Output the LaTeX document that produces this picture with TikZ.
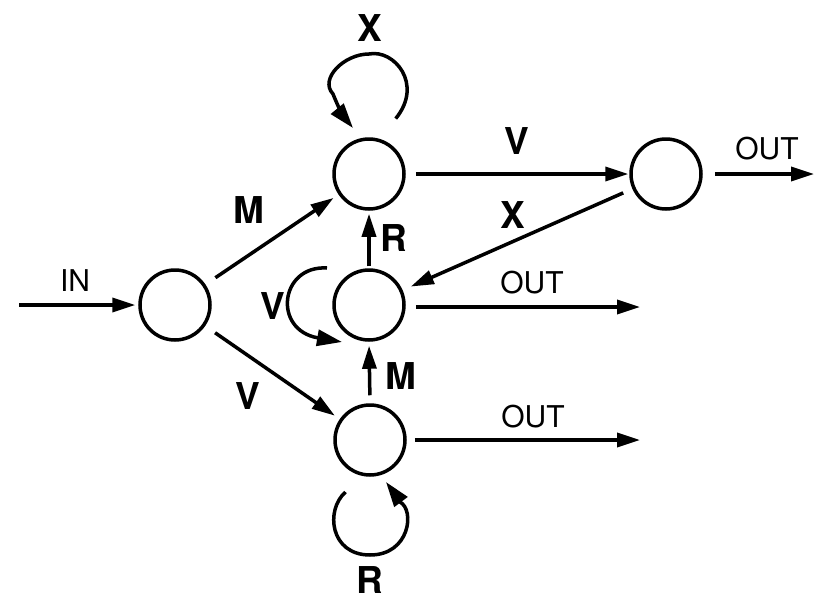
\documentclass[tikz,border=0pt]{standalone}
\usepackage{fontspec}
\setmainfont{TeX Gyre Heros}
\usetikzlibrary{arrows.meta}
\begin{document}
\begin{tikzpicture}[x=1pt,y=-1pt,
  state/.style={circle, draw, line width=3.5pt, minimum size=70pt, inner sep=0pt},
  flow/.style={line width=3.5pt, -{Triangle[length=23pt,width=14pt]}},
  looparc/.style={line width=3.5pt, -{Triangle[length=25pt,width=16pt]}},
  big/.style={inner sep=0pt, font=\fontsize{37}{37}\selectfont\bfseries},
  small/.style={inner sep=0pt, font=\fontsize{30}{30}\selectfont}]
\useasboundingbox (0,0) rectangle (815,600);

% states
\node[state] (left) at (175,305) {};
\node[state] (top) at (369,174) {};
\node[state] (mid) at (369,305) {};
\node[state] (bot) at (370,440) {};
\node[state] (right) at (666,174) {};

% free ends of the input and output arrows
\coordinate (inS) at (19,305);
\coordinate (outR) at (814,174);
\coordinate (outM) at (640,307);
\coordinate (outB) at (640,440);

% transitions between states
\draw[flow, shorten >=3pt] (inS) -- (left.west |- inS);
\draw[flow, shorten <=12pt, shorten >=6pt] (left) -- (top);
\draw[flow, shorten <=12pt, shorten >=6pt] (left) -- (bot);
\draw[flow, shorten <=10pt, shorten >=1pt] (top.east) -- (right.west);
\draw[flow, shorten <=12pt] (right.east) -- (outR);
\draw[flow, shorten <=10pt, shorten >=9pt] (right) -- (mid);
\draw[flow, shorten <=10pt] (mid.east |- outM) -- (outM);
\draw[flow, shorten <=8pt] (bot.east) -- (outB);
\draw[flow, shorten <=2pt, shorten >=3pt] (mid.north) -- (top.south);
\draw[flow, shorten <=8pt, shorten >=4pt] (bot.north) -- (mid.south);

% self loops
\draw[looparc] ([shift={(26.7,-55.4)}]top.center)
  .. controls ([shift={(55,-90)}]top.center) and ([shift={(25,-125)}]top.center) .. ([shift={(0,-120)}]top.center)
  .. controls ([shift={(-25,-120)}]top.center) and ([shift={(-50,-95)}]top.center) .. ([shift={(-36,-80)}]top.center)
  .. controls ([shift={(-30,-65)}]top.center) and ([shift={(-25,-57)}]top.center) .. ([shift={(-16,-46)}]top.center);
\draw[looparc] ([shift={(-42,-37)}]mid.center) .. controls ([shift={(-89,-40)}]mid.center) and ([shift={(-97,25)}]mid.center) .. ([shift={(-27,37)}]mid.center);
\draw[looparc] ([shift={(-24.5,52)}]bot.center)
  .. controls ([shift={(-45,70)}]bot.center) and ([shift={(-40,115)}]bot.center) .. ([shift={(0,115)}]bot.center)
  .. controls ([shift={(40,115)}]bot.center) and ([shift={(45,70)}]bot.center) .. ([shift={(30,62)}]bot.center)
  .. controls ([shift={(25,55)}]bot.center) and ([shift={(22,50)}]bot.center) .. ([shift={(16,42)}]bot.center);

% labels
\node[small] (lIn) at (75,281) {IN};
\node[big] (lM1) at (249,210) {M};
\node[big] (lV1) at (248,396) {V};
\node[big] (lX1) at (370,28) {X};
\node[big] (lV2) at (517,141) {V};
\node[small] (lOut1) at (767,149) {OUT};
\node[big] (lX2) at (513,215) {X};
\node[big] (lR1) at (394,238) {R};
\node[big] (lV3) at (273,306) {V};
\node[small] (lOut2) at (532,283) {OUT};
\node[big] (lM2) at (401,376) {M};
\node[small] (lOut3) at (533,417) {OUT};
\node[big] (lR2) at (370,580) {R};
\end{tikzpicture}
\end{document}
